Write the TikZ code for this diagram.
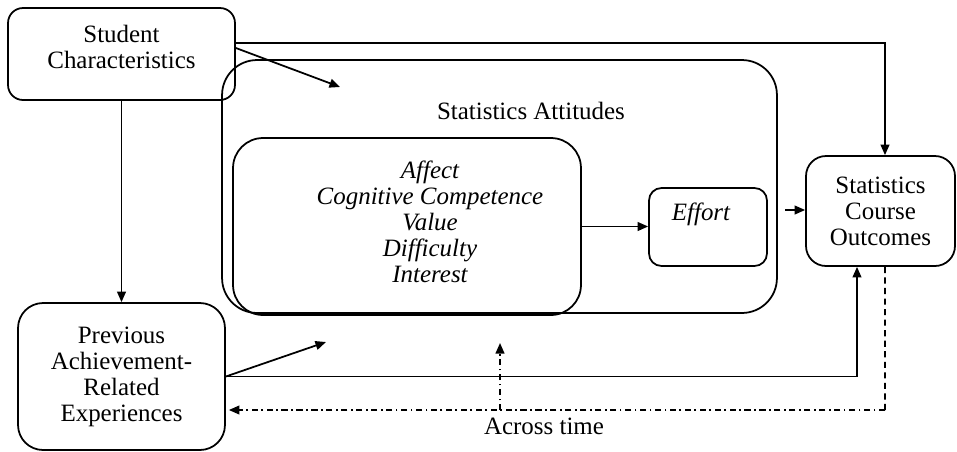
\documentclass[tikz,border=0pt]{standalone}
\usepackage{fontspec}
\setmainfont{Liberation Serif}
\usetikzlibrary{calc,arrows.meta}
\tikzset{
	box/.style={draw, line width=1pt, align=center, inner sep=0pt},
	txt/.style={align=center, inner sep=0pt},
	arr/.style={line width=1pt, -{Triangle[length=6pt,width=5pt]}},
	dashdot/.style={line width=0.9pt, dash pattern=on 3.5pt off 2pt on 1pt off 2pt},
}

\begin{document}
\begin{tikzpicture}[x=0.02cm, y=-0.02cm, font=\fontsize{14.2}{14.8}\selectfont]
	%%%%% START %%%%%
	\useasboundingbox (0,0) rectangle (957,451);
	
	% boxes
	\node[box, rounded corners=0.3cm, minimum width=4.54cm, minimum height=1.84cm] (stud) at (121.5,54) {};
	\node[txt, font=\fontsize{14.2}{15.3}\selectfont] (studtxt) at (121.5,47) {Student\\Characteristics};
	\node[box, rounded corners=0.7cm, minimum width=11.1cm, minimum height=5.06cm] (att) at (499.5,186.5) {};
	\node[txt] (atttitle) at (531,111) {Statistics Attitudes};
	\node[box, rounded corners=0.6cm, minimum width=6.96cm, minimum height=3.54cm] (inner) at (407,226.5) {};
	\node[txt, font=\fontsize{14.2}{14.8}\selectfont\itshape] (factors) at (430,222) {Affect\\Cognitive Competence\\Value\\Difficulty\\Interest};
	\node[box, rounded corners=0.25cm, minimum width=2.36cm, minimum height=1.56cm] (effort) at (708,227) {};
	\node[txt, font=\fontsize{14.2}{14.8}\selectfont\itshape] (efforttxt) at (701,214) {Effort};
	\node[box, rounded corners=0.4cm, minimum width=2.98cm, minimum height=2.2cm] (outcomes) at (880.5,211) {Statistics\\Course\\Outcomes};
	\node[box, rounded corners=0.5cm, minimum width=4.14cm, minimum height=2.94cm] (prev) at (121.5,376.5) {Previous\\Achievement-\\Related\\Experiences};
	\node[txt] (time) at (544,426) {Across time};
	
	% loose arrow ends
	\coordinate (atttop) at (340,87);
	\coordinate (attbot) at (326,342);
	\coordinate (attin) at (785,210);
	\coordinate (timeup) at (500,343);
	\coordinate (turn) at (885,410);
	
	% solid arrows
	\draw[arr] ($(stud.east)+(0,-11)$) -| ($(outcomes.north)+(4.5,0)$);
	\draw[arr] ($(stud.east)+(0,-6)$) -- (atttop);
	\draw[arr] (stud.south) -- (prev.north);
	\draw[arr] (inner.east) -- (inner.east -| effort.west);
	\draw[arr] (attin) -- (attin -| outcomes.west);
	\draw[arr] (prev.east) -- (attbot);
	\draw[arr] (prev.east) -| ($(outcomes.south)+(-23.5,0)$);
	
	% feedback across time
	\draw[line width=0.9pt, dash pattern=on 3.5pt off 2.5pt] ($(outcomes.south)+(4.5,0)$) -- (turn);
	\draw[dashdot, -{Triangle[length=6pt,width=5pt]}] (turn) -- ($(prev.east |- turn)+(3,0)$);
	\draw[dashdot, -{Triangle[length=6pt,width=5pt]}] (timeup |- turn) -- (timeup);
	
	%%%%% END %%%%%
\end{tikzpicture}
\end{document}
